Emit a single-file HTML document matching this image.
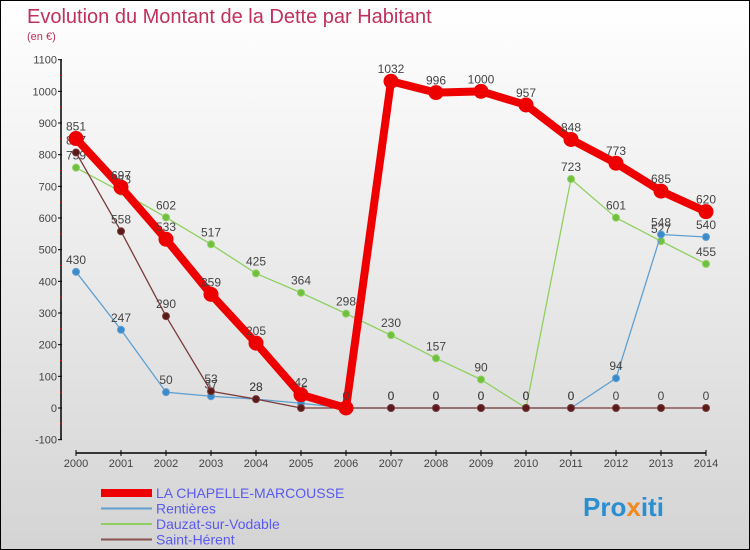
<!DOCTYPE html>
<html><head><meta charset="utf-8"><style>
html,body{margin:0;padding:0}
body{width:750px;height:550px;overflow:hidden;font-family:"Liberation Sans",sans-serif}
#wrap{position:relative;width:748px;height:548px;border:1px solid #000;background:linear-gradient(#fff,#d4d4d4)}
</style></head><body>
<div id="wrap">
<svg id="chart" width="748" height="548" style="position:absolute;left:0;top:0">
<text x="26" y="22" font-size="20" fill="#c0305a">Evolution du Montant de la Dette par Habitant</text>
<text x="26" y="39" font-size="11" fill="#c0305a">(en €)</text>
<g id="axes"></g><g id="series"></g><g id="legend"></g>
<text x="582" y="515" font-size="26" font-weight="bold" fill="#2a8fd0">Pro<tspan fill="#f08a20">x</tspan>iti</text>
</svg>
</div>
<script>
const years=[2000,2001,2002,2003,2004,2005,2006,2007,2008,2009,2010,2011,2012,2013,2014];
const yTicks=[-100,0,100,200,300,400,500,600,700,800,900,1000,1100];
const chapelle=[851,697,533,359,205,42,0,1032,996,1000,957,848,773,685,620];
const rentieres=[430,247,50,37,28,15,0,0,0,0,0,0,94,548,540];
const dauzat=[759,683,602,517,425,364,298,230,157,90,0,723,601,527,455];
const herent=[807,558,290,53,28,0,0,0,0,0,0,0,0,0,0];
const seriesNames=["LA CHAPELLE-MARCOUSSE","Rentières","Dauzat-sur-Vodable","Saint-Hérent"];
const NS="http://www.w3.org/2000/svg";
function x(i){return 75+45*i;}
function y(v){return 407-v*0.31667;}
function mk(t,a,p){const e=document.createElementNS(NS,t);for(const k in a)e.setAttribute(k,a[k]);p.appendChild(e);return e;}
const ax=document.getElementById('axes');
let yl=mk('line',{x1:60,y1:y(1100),x2:60,y2:y(-100),stroke:'#000','stroke-width':1.5},ax);


yTicks.forEach((v,i)=>{
 mk('line',{x1:57,y1:y(v),x2:61,y2:y(v),stroke:'#000'},ax);
 if(i<yTicks.length-1)mk('line',{x1:59,y1:y(v+50),x2:61,y2:y(v+50),stroke:'#f00'},ax);
 const t=mk('text',{x:56,y:y(v)+4,'font-size':11,'text-anchor':'end',fill:'#444'},ax);
 t.textContent=v;
 
 
});
let xl=mk('line',{x1:x(0),y1:452,x2:x(14),y2:452,stroke:'#000','stroke-width':1.5},ax);


years.forEach((yr,i)=>{
 mk('line',{x1:x(i),y1:449,x2:x(i),y2:455,stroke:'#000'},ax);
 const t=mk('text',{x:x(i),y:466,'font-size':11,'text-anchor':'middle',fill:'#444'},ax);
 t.textContent=yr;
 
 
});
const sg=document.getElementById('series');
function draw(data,color,w,r,name,dot){
 const g=mk('g',{},sg);
 
 
 mk('polyline',{points:data.map((v,i)=>x(i)+','+y(v)).join(' '),fill:'none',stroke:color,'stroke-width':w,'stroke-linejoin':'round'},g);
 data.forEach((v,i)=>{
  const c=mk('circle',{cx:x(i),cy:y(v),r:r,fill:dot,stroke:color,'stroke-width':1},g);
  
  
  const t=mk('text',{x:x(i),y:y(v)-8,'font-size':12,'text-anchor':'middle',fill:'#444'},g);
  t.textContent=v;
  
  
 });
}
draw(dauzat,'#90d060',1.3,3.5,'dauzat-series','#70c040');
draw(rentieres,'#60a0d0',1.3,3.5,'rentieres-series','#3a8acc');
draw(herent,'#7a3a3a',1.3,3.5,'saint-herent-series','#5a1a1a');
draw(chapelle,'#ee0000',8,7,'chapelle-series','#ee0000');
const lg=document.getElementById('legend');
const cols=['#ee0000','#60a0d0','#90d060','#8a5050'],ws=[8,2,2,2];
seriesNames.forEach((n,i)=>{
 const yy=492+15.5*i;
 const l=mk('line',{x1:100,y1:yy,x2:151,y2:yy,stroke:cols[i],'stroke-width':ws[i]},lg);
 
 
 const t=mk('text',{x:155,y:yy+5,'font-size':14,fill:'#5a5af0'},lg);
 t.textContent=n;
 
 
});
</script>
</body></html>
